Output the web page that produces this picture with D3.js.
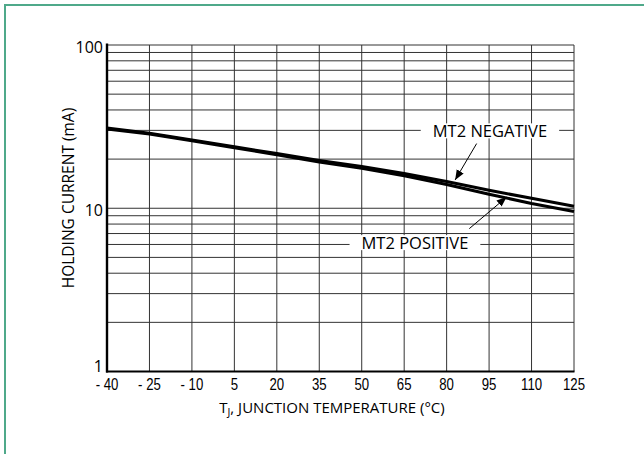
<!DOCTYPE html>
<html>
<head>
<meta charset="utf-8">
<script src="https://cdn.jsdelivr.net/npm/d3@7"></script>
<style>
  body { margin: 0; background: #fff; }
  svg { display: block; }
</style>
</head>
<body>
<div id="chart"></div>
<script>
// junction temperature (C) and holding current (mA)
var temps = [-40, -25, -10, 5, 20, 35, 50, 65, 80, 95, 110, 125];
var mt2Negative = [31.0, 28.8, 26.2, 23.8, 21.6, 19.6, 18.0, 16.3, 14.6, 12.9, 11.5, 10.3];
var mt2Positive = [30.6, 28.5, 25.9, 23.5, 21.3, 19.2, 17.6, 15.8, 14.0, 12.2, 10.7, 9.55];

var xTicks = [-40, -25, -10, 5, 20, 35, 50, 65, 80, 95, 110, 125];
var xTickLabels = ['- 40', '- 25', '- 10', '5', '20', '35', '50', '65', '80', '95', '110', '125'];
var yTicks = [1, 10, 100];
var yMinor = [2, 3, 4, 5, 6, 7, 8, 9, 20, 30, 40, 50, 60, 70, 80, 90];

// annotation anchors in data units: label centre, arrow tail, arrow tip
var labels = [
    { text: 'MT2 NEGATIVE', t: 95.3, v: 30, tail: [90.6, 24.9], tip: [83, 14.9] },
    { text: 'MT2 POSITIVE', t: 68.8, v: 6.2, tail: [88, 7.5], tip: [101.2, 11.7] }
];

var width = 644, height = 454;
var plotLeft = 107, plotRight = 574, plotTop = 45, plotBottom = 371.5;

var svg = d3.select('#chart').append('svg')
    .attr('width', width)
    .attr('height', height);

// green frame, open to the right and bottom edges
svg.append('rect')
    .attr('x', 5).attr('y', 5)
    .attr('width', width + 10).attr('height', height + 10)
    .attr('fill', 'none')
    .attr('stroke', '#4fa98a')
    .attr('stroke-width', 2);

var x = d3.scaleLinear().domain([-40, 125]).range([plotLeft, plotRight]);
var y = d3.scaleLog().domain([1, 100]).range([plotBottom, plotTop]);

var grid = svg.append('g').attr('stroke', '#333').attr('stroke-width', 1);

grid.selectAll('line.h')
    .data(yMinor.concat([10, 100]))
    .enter().append('line')
    .attr('class', 'h')
    .attr('x1', plotLeft).attr('x2', plotRight)
    .attr('y1', function(d) { return y(d); })
    .attr('y2', function(d) { return y(d); });

grid.selectAll('line.v')
    .data(xTicks.slice(1))
    .enter().append('line')
    .attr('class', 'v')
    .attr('x1', function(d) { return x(d); })
    .attr('x2', function(d) { return x(d); })
    .attr('y1', plotTop).attr('y2', plotBottom);

// heavy left and bottom axis lines
svg.append('line')
    .attr('x1', plotLeft).attr('x2', plotLeft)
    .attr('y1', plotTop - 1.5).attr('y2', plotBottom + 1)
    .attr('stroke', '#000').attr('stroke-width', 2.4);
svg.append('line')
    .attr('x1', plotLeft - 1).attr('x2', plotRight + 0.5)
    .attr('y1', plotBottom).attr('y2', plotBottom)
    .attr('stroke', '#000').attr('stroke-width', 2.2);

// tick labels, squeezed to look like a narrow face
svg.append('g').selectAll('text')
    .data(xTicks)
    .enter().append('text')
    .attr('x', function(d) { return x(d); })
    .attr('y', plotBottom + 18.5)
    .attr('text-anchor', 'middle')
    .attr('font-family', '"Liberation Sans", Arial, sans-serif')
    .attr('font-size', 16.5)
    .attr('fill', '#000')
    .text(function(d, i) { return xTickLabels[i]; })
    .each(function() {
        var w = this.getComputedTextLength();
        d3.select(this).attr('textLength', w * 0.8).attr('lengthAdjust', 'spacingAndGlyphs');
    });

svg.append('g').selectAll('text')
    .data(yTicks)
    .enter().append('text')
    .attr('x', plotLeft - 4)
    .attr('y', function(d) { return Math.min(y(d) + 7.5, plotBottom + 0.5); })
    .attr('text-anchor', 'end')
    .attr('font-family', '"Open Sans", sans-serif')
    .attr('font-size', 16)
    .attr('fill', '#000')
    .text(function(d) { return d; });

// axis titles
svg.append('text')
    .attr('transform', 'translate(74,198) rotate(-90)')
    .attr('text-anchor', 'middle')
    .attr('font-family', '"Open Sans", sans-serif')
    .attr('font-size', 15.5)
    .attr('fill', '#000')
    .text('HOLDING CURRENT (mA)');

var xTitle = svg.append('text')
    .attr('x', 332)
    .attr('y', 413)
    .attr('text-anchor', 'middle')
    .attr('font-family', '"Open Sans", sans-serif')
    .attr('font-size', 15)
    .attr('fill', '#000');
xTitle.append('tspan').text('T');
xTitle.append('tspan').attr('dy', 3).attr('font-size', 10.5).text('J');
xTitle.append('tspan').attr('dy', -3).text(', JUNCTION TEMPERATURE (\u00b0C)');

// curves
var line = d3.line()
    .x(function(d) { return x(d[0]); })
    .y(function(d) { return y(d[1]); });

[mt2Negative, mt2Positive].forEach(function(series) {
    svg.append('path')
        .datum(temps.map(function(t, i) { return [t, series[i]]; }))
        .attr('fill', 'none')
        .attr('stroke', '#000')
        .attr('stroke-width', 3.1)
        .attr('stroke-linejoin', 'round')
        .attr('d', line);
});

// annotations: white box breaking the grid, text, arrow
svg.append('defs').append('marker')
    .attr('id', 'head')
    .attr('viewBox', '0 0 10 10')
    .attr('refX', 10).attr('refY', 5)
    .attr('markerWidth', 10).attr('markerHeight', 10)
    .attr('markerUnits', 'userSpaceOnUse')
    .attr('orient', 'auto')
    .append('path')
    .attr('d', 'M0,1 L10,5 L0,9 Z')
    .attr('fill', '#000');

labels.forEach(function(l) {
    var g = svg.append('g');
    var txt = g.append('text')
        .attr('x', x(l.t))
        .attr('y', y(l.v) + 6.5)
        .attr('text-anchor', 'middle')
        .attr('font-family', '"Open Sans", sans-serif')
        .attr('font-size', 16.5)
        .attr('fill', '#000')
        .text(l.text);
    var w = txt.node().getComputedTextLength();
    g.insert('rect', 'text')
        .attr('x', x(l.t) - w / 2 - 12)
        .attr('y', y(l.v) - 7)
        .attr('width', w + 24)
        .attr('height', 15)
        .attr('fill', '#fff');
    svg.append('line')
        .attr('x1', x(l.tail[0])).attr('y1', y(l.tail[1]))
        .attr('x2', x(l.tip[0])).attr('y2', y(l.tip[1]))
        .attr('stroke', '#000')
        .attr('stroke-width', 1)
        .attr('marker-end', 'url(#head)');
});
</script>
</body>
</html>
